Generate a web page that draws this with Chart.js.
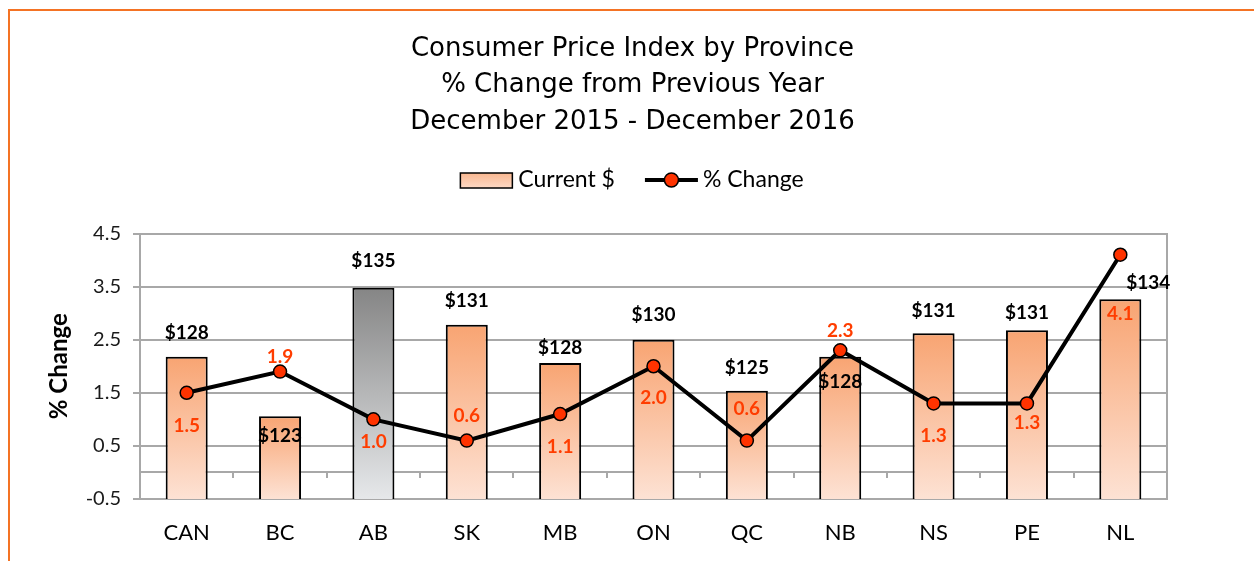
<!DOCTYPE html>
<html>
<head>
<meta charset="utf-8">
<script src="https://cdn.jsdelivr.net/npm/chart.js@4.4.1/dist/chart.umd.min.js"></script>
<style>
    html, body { margin: 0; padding: 0; background: #fff; overflow: hidden; }
</style>
</head>
<body>
<canvas id="cpiChart" width="1254" height="561"></canvas>
<script>
// Dados do gráfico
const provinces = ['CAN', 'BC', 'AB', 'SK', 'MB', 'ON', 'QC', 'NB', 'NS', 'PE', 'NL'];
const currentDollars = [128.4, 122.8, 134.9, 131.4, 127.8, 130.0, 125.2, 128.4, 130.6, 130.9, 133.8];
const pctChange = [1.5, 1.9, 1.0, 0.6, 1.1, 2.0, 0.6, 2.3, 1.3, 1.3, 4.1];
const titleLines = ['Consumer Price Index by Province', '% Change from Previous Year', 'December 2015 - December 2016'];
const highlighted = 'AB';

// deslocamento dos rótulos (px), como no original
const dollarLabelDy = [-24, 20, -27, -24, -15, -25, -23, 25, -22, -17, -16];
const dollarLabelDx = [0, 0, 0, 0, 0, 0, 0, 0, 0, 0, 28];
const pctLabelDy = [33, -15, 23, -25, 33, 32, -32, -19, 32, 19, 59];

const gridGray = '#a8a8a8';
const labelRed = '#ff3d00';
const uiFont = 'Lato, "Open Sans", sans-serif';

function isHalf(v) {
    return Math.abs(Math.round(v * 2) % 2) === 1;
}

function barFill(context) {
    const chart = context.chart;
    const area = chart.chartArea;
    if (!area || context.type !== 'data') return '#f9b08a';
    const top = chart.scales.y2.getPixelForValue(currentDollars[context.dataIndex]);
    const g = chart.ctx.createLinearGradient(0, top, 0, area.bottom);
    if (provinces[context.dataIndex] === highlighted) {
        g.addColorStop(0, '#858585');
        g.addColorStop(1, '#e6e8ea');
    } else {
        g.addColorStop(0, '#f8a472');
        g.addColorStop(1, '#fde2d4');
    }
    return g;
}

const frame = {
    id: 'frame',
    beforeDraw(chart) {
        const c = chart.ctx;
        c.save();
        c.strokeStyle = '#f47324';
        c.lineWidth = 2;
        c.beginPath();
        c.moveTo(9, chart.height);
        c.lineTo(9, 10);
        c.lineTo(chart.width, 10);
        c.stroke();
        c.restore();
    }
};

// linha do zero e pequenos traços entre as categorias
const zeroAxis = {
    id: 'zeroAxis',
    beforeDatasetsDraw(chart) {
        const x = chart.scales.x, y = chart.scales.y;
        const y0 = Math.round(y.getPixelForValue(0));
        const c = chart.ctx;
        c.save();
        c.strokeStyle = gridGray;
        c.lineWidth = 2;
        c.beginPath();
        c.moveTo(chart.chartArea.left, y0);
        c.lineTo(chart.chartArea.right, y0);
        for (let i = 1; i < provinces.length; i++) {
            const px = Math.round((x.getPixelForValue(i - 1) + x.getPixelForValue(i)) / 2);
            c.moveTo(px, y0);
            c.lineTo(px, y0 + 6);
        }
        c.stroke();
        c.restore();
    }
};

const valueLabels = {
    id: 'valueLabels',
    afterDatasetsDraw(chart) {
        const c = chart.ctx;
        c.save();
        c.font = 'bold 19px ' + uiFont;
        c.textAlign = 'center';
        c.textBaseline = 'middle';
        chart.getDatasetMeta(0).data.forEach((bar, i) => {
            c.fillStyle = '#000';
            c.fillText('$' + Math.round(currentDollars[i]), bar.x + dollarLabelDx[i], bar.y + dollarLabelDy[i]);
        });
        chart.getDatasetMeta(1).data.forEach((pt, i) => {
            c.fillStyle = labelRed;
            c.fillText(pctChange[i].toFixed(1), pt.x, pt.y + pctLabelDy[i]);
        });
        c.restore();
    }
};

const customLegend = {
    id: 'customLegend',
    afterDraw(chart) {
        const c = chart.ctx;
        const y = 180;
        c.save();
        c.font = '23px ' + uiFont;
        c.textBaseline = 'middle';
        const t1 = 'Current $', t2 = '% Change';
        const w1 = c.measureText(t1).width, w2 = c.measureText(t2).width;
        const total = 52 + 6 + w1 + 30 + 53 + 5 + w2;
        let x = 632 - total / 2;
        const g = c.createLinearGradient(0, y - 7, 0, y + 8);
        g.addColorStop(0, '#f9b790');
        g.addColorStop(1, '#fdd9c5');
        c.fillStyle = g;
        c.fillRect(x, y - 7, 52, 15);
        c.strokeStyle = '#000';
        c.lineWidth = 1.5;
        c.strokeRect(x, y - 7, 52, 15);
        x += 58;
        c.fillStyle = '#000';
        c.fillText(t1, x, y);
        x += w1 + 30;
        c.lineWidth = 4;
        c.beginPath();
        c.moveTo(x, y);
        c.lineTo(x + 53, y);
        c.stroke();
        c.beginPath();
        c.arc(x + 26.5, y, 7, 0, Math.PI * 2);
        c.fillStyle = '#ff3300';
        c.fill();
        c.lineWidth = 1.5;
        c.stroke();
        x += 58;
        c.fillStyle = '#000';
        c.fillText(t2, x, y);
        c.restore();
    }
};

const ctx = document.getElementById('cpiChart').getContext('2d');
const cpiChart = new Chart(ctx, {
    type: 'bar',
    data: {
        labels: provinces,
        datasets: [{
            label: 'Current $',
            data: currentDollars,
            yAxisID: 'y2',
            backgroundColor: barFill,
            borderColor: '#000',
            borderWidth: 2,
            borderSkipped: false,
            barPercentage: 0.45,
            categoryPercentage: 1,
            order: 1
        }, {
            type: 'line',
            label: '% Change',
            data: pctChange,
            yAxisID: 'y',
            borderColor: '#000',
            borderWidth: 4,
            pointRadius: 6.5,
            pointBackgroundColor: '#ff3300',
            pointBorderColor: '#000',
            pointBorderWidth: 1.5,
            tension: 0,
            order: 0
        }]
    },
    options: {
        responsive: false,
        animation: false,
        devicePixelRatio: 1,
        layout: { padding: { left: 11, right: 0, top: 0, bottom: 0 } },
        plugins: {
            legend: { display: false },
            tooltip: { enabled: false },
            title: {
                display: true,
                text: titleLines,
                color: '#000',
                font: { family: '"DejaVu Sans", sans-serif', size: 26, weight: 'normal', lineHeight: 1.4 },
                padding: { top: 31, bottom: 93.3 }
            }
        },
        scales: {
            x: {
                offset: true,
                grid: { display: false },
                border: { display: false },
                ticks: { color: '#000', font: { family: uiFont, size: 22 }, padding: 13 },
                afterFit(scale) { scale.height = 62; }
            },
            y: {
                position: 'left',
                min: -0.5,
                max: 4.5,
                ticks: {
                    stepSize: 1,
                    autoSkip: false,
                    color: '#1a1a1a',
                    font: { family: uiFont, size: 20 },
                    padding: 12,
                    callback: (v) => v.toFixed(1)
                },
                grid: {
                    lineWidth: 2,
                    tickLength: 7,
                    color: gridGray,
                    tickColor: gridGray
                },
                border: { display: true, color: gridGray, width: 2 },
                title: {
                    display: true,
                    text: '% Change',
                    color: '#000',
                    font: { family: uiFont, size: 24, weight: 'bold' },
                    padding: { top: 34, bottom: 0 }
                },
                afterFit(scale) { scale.width = 129; }
            },
            y2: {
                position: 'right',
                min: 115,
                max: 140,
                ticks: { display: false },
                grid: { drawOnChartArea: false, drawTicks: false },
                border: { display: true, color: gridGray, width: 2 },
                afterFit(scale) { scale.width = 87; }
            }
        }
    },
    plugins: [frame, zeroAxis, valueLabels, customLegend]
});
</script>
</body>
</html>
